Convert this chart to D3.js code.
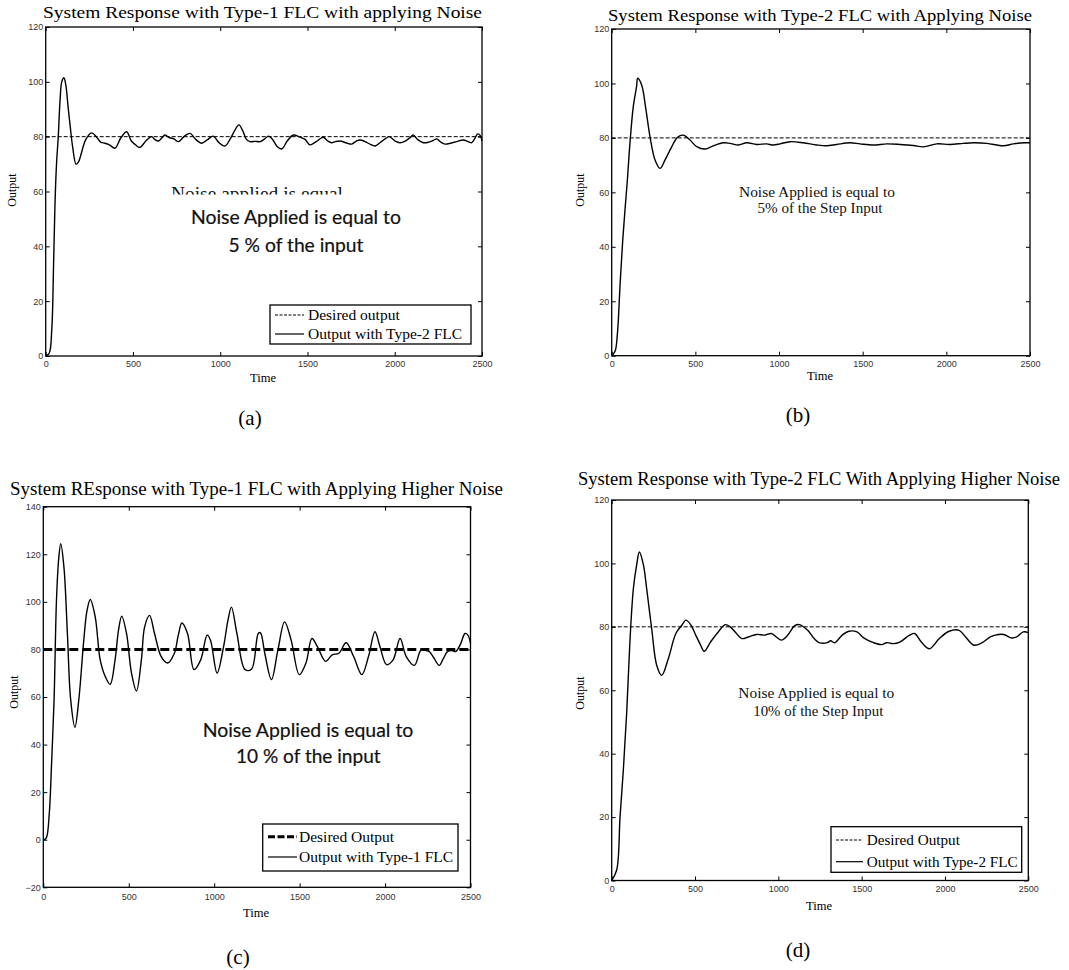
<!DOCTYPE html>
<html>
<head>
<meta charset="utf-8">
<script src="https://cdn.jsdelivr.net/npm/d3@7"></script>
<style>
  html, body { margin: 0; padding: 0; background: #fff; }
  svg { display: block; }
</style>
</head>
<body>
<svg id="fig" width="1069" height="970"></svg>
<script>
// ---------------- DATA ----------------
const xTicks = [0, 500, 1000, 1500, 2000, 2500];
const yTicks120 = [0, 20, 40, 60, 80, 100, 120];
const yTicks140 = [-20, 0, 20, 40, 60, 80, 100, 120, 140];
const desiredOutput = 80;

// (a) Type-1 FLC, 5% noise
const timeA = [0,20,35,45,53,62,72,82,92,104,115,128,140,155,174,188,
  200,230,263,290,315,340,365,397,430,464,
  490,515,540,575,607,625,645,665,684,710,
  735,760,795,827,860,894,925,960,990,1027,
  1060,1085,1107,1130,1150,1171,1200,1229,1255,1276,
  1300,1325,1352,1385,1419,1450,1486,1514,1550,1590,
  1615,1638,1660,1686,1720,1753,1780,1801,1830,1860,
  1887,1915,1945,1969,2000,2030,2060,2085,2106,2130,
  2164,2195,2220,2240,2265,2288,2320,2355,2393,2420,
  2441,2460,2475,2490,2500];
const outputA = [0,1,10,33,55,70,80,93,100,101.5,99,91,84,76,70,70.8,
  73,79,81.4,80,78,77.6,77,75.8,79.5,81.8,
  78.5,77,76.1,78.5,80,79,78.4,79.5,80.6,79.6,
  79.2,78.2,80.2,81.2,79,77.6,78.8,80.2,78,76.6,
  79.5,82.5,84.3,82,79,78.2,78.3,78.2,79.2,80.2,
  79,76.5,75.5,78.5,80.6,80,79,77,78.2,79.8,
  78.5,77.8,78.2,78.4,77.8,77.3,78.4,78.8,78.2,77.2,
  76.6,77.8,79.2,80,78.5,77.8,78.4,79.5,80.6,79,
  77.8,78,78.6,79.2,78,77.3,77.6,78.2,78.8,78.2,
  77.8,79.5,81,80.4,78.5];

// (b) Type-2 FLC, 5% noise
const timeB = [0,20,34,50,66,80,93,109,129,149,
  155,179,205,229,259,289,319,359,393,428,
  468,508,558,607,667,707,757,807,867,926,
  966,1006,1066,1145,1225,1285,1345,1424,1484,1564,
  1644,1723,1803,1863,1943,2022,2102,2162,2242,2341,
  2401,2470,2500];
const outputB = [0,1.6,8,26,42.5,54,64,78,91.5,99,
  101.9,99.4,90.2,80.4,71.9,68.8,71.9,76.8,80.2,81,
  79.2,76.8,75.9,77.1,78.2,78,77.4,78.2,77.6,77.8,
  77.4,77.8,78.6,78.2,77.4,77.1,77.6,78.2,77.8,77.4,
  77.8,77.6,77.2,76.7,77.8,77.6,78,78.2,78,77.1,
  77.8,78.2,78.2];

// (c) Type-1 FLC, 10% noise
const timeC = [0,6,19,35,49,63,77,90,102,121,
  141,160,185,208,237,256,275,304,333,362,
  391,420,440,459,487,516,545,574,593,622,
  651,690,728,767,790,811,844,882,921,959,
  978,1017,1055,1080,1101,1133,1181,1219,1258,1271,
  1296,1335,1373,1412,1450,1498,1537,1572,1604,1652,
  1691,1730,1772,1816,1864,1903,1941,1970,2009,2047,
  2088,2124,2172,2211,2240,2259,2285,2317,2340,2365,
  2390,2413,2440,2468,2485,2500];
const outputC = [0,0,1,11,33,58.6,100.5,118,124.4,114.4,
  86.7,59,47.3,59,84,96.4,101,93.6,75.6,68.7,
  65.3,75.6,88,94,86.7,70.1,62.5,75.6,89.5,94.3,
  86.7,77,74.3,78.4,86,91.1,86.7,71.5,75.6,86,
  84,70.1,81.2,92,97.8,86.7,71.5,71.8,86.7,87,
  78.4,67.3,79.8,91.6,84,69.4,74.3,84.6,81.2,75,
  77.7,78.4,82.8,77,69.4,77,87.4,81.2,73.6,75.6,
  84.6,77,73.3,79.8,79.5,79.1,76.5,73.3,76,79.1,
  79.5,79.1,82,86.7,86,82.6];

// (d) Type-2 FLC, 10% noise
const timeD = [0,30,50,70,90,110,130,150,166,190,
  210,240,270,300,340,385,421,445,474,504,
  534,555,593,632,682,711,741,781,820,869,
  919,958,988,1018,1057,1097,1126,1176,1215,1245,
  1294,1314,1338,1383,1423,1472,1512,1571,1620,1650,
  1690,1729,1788,1818,1858,1907,1966,2025,2085,2124,
  2174,2223,2272,2302,2351,2401,2430,2470,2500];
const outputD = [0,3.3,20,35,53,76,92,99.6,103.6,99.6,
  92,79.4,67.9,64.7,70,77.9,80.5,82.1,80.7,77.4,
  74.2,72.3,75.2,77.9,80.7,80,78.4,76.3,76.8,77.6,
  77.4,77.9,76.8,75.8,77.4,80.3,80.7,78.9,76.3,75,
  75,75.6,75,77.4,78.6,78.4,76.5,75,74.4,75,
  74.7,75.2,77.4,77.9,75.2,73.1,76.3,78.6,78.9,76.8,
  74.2,75,76.8,77.4,77.6,76.5,76.8,78.4,78.2];

// ---------------- DRAWING ----------------
const svg = d3.select("#fig");
const SERIF = "'Liberation Serif', 'Times New Roman', Times, serif";
const SANS = "'Liberation Sans', Arial, Helvetica, sans-serif";
const CAL = "Lato, 'Open Sans', sans-serif";

function panel(cfg) {
  const x = d3.scaleLinear().domain([0, 2500]).range([cfg.left, cfg.right]);
  const y = d3.scaleLinear().domain(cfg.yDomain).range([cfg.bottom, cfg.top]);
  const g = svg.append("g");

  const style = sel => {
    sel.select(".domain").remove();
    sel.selectAll(".tick line").attr("stroke", "#000").attr("stroke-width", 1);
    sel.selectAll(".tick text").attr("fill", "#333").attr("font-family", SANS).attr("font-size", 9);
  };
  g.append("g").attr("transform", `translate(0,${cfg.bottom})`)
    .call(d3.axisBottom(x).tickValues(xTicks).tickSize(-4).tickPadding(cfg.xPad || 5).tickFormat(d3.format("d")))
    .call(style);
  g.append("g").attr("transform", `translate(0,${cfg.top})`)
    .call(d3.axisTop(x).tickValues(xTicks).tickSize(-4).tickFormat(() => ""))
    .call(style);
  g.append("g").attr("transform", `translate(${cfg.left},0)`)
    .call(d3.axisLeft(y).tickValues(cfg.yTicks).tickSize(-4).tickPadding(2.5).tickFormat(d3.format("d")))
    .call(style);
  g.append("g").attr("transform", `translate(${cfg.right},0)`)
    .call(d3.axisRight(y).tickValues(cfg.yTicks).tickSize(-4).tickFormat(() => ""))
    .call(style);

  // desired output
  g.append("line")
    .attr("x1", x(0)).attr("x2", x(2500))
    .attr("y1", y(desiredOutput)).attr("y2", y(desiredOutput))
    .attr("stroke", "#000").attr("stroke-width", cfg.thickDash ? 3 : 1)
    .attr("stroke-dasharray", cfg.thickDash ? "9,4" : "4,2");

  // response curve
  const pts = d3.zip(cfg.time, cfg.output);
  g.append("path").datum(pts)
    .attr("fill", "none").attr("stroke", "#000").attr("stroke-width", 1.4)
    .attr("stroke-linejoin", "round")
    .attr("d", d3.line().x(d => x(d[0])).y(d => y(d[1])).curve(d3.curveCatmullRom.alpha(0.5)));

  // box
  g.append("rect")
    .attr("x", cfg.left).attr("y", cfg.top)
    .attr("width", cfg.right - cfg.left).attr("height", cfg.bottom - cfg.top)
    .attr("fill", "none").attr("stroke", "#000").attr("stroke-width", 1.3);

  // title
  g.append("text").text(cfg.title)
    .attr("x", cfg.titleX).attr("y", cfg.titleY)
    .attr("text-anchor", "middle").attr("font-family", SERIF).attr("font-size", cfg.titleSize)
    .attr("textLength", cfg.titleLen).attr("lengthAdjust", "spacingAndGlyphs");

  // axis labels
  g.append("text").text("Time")
    .attr("x", cfg.timeX).attr("y", cfg.timeY)
    .attr("text-anchor", "middle").attr("font-family", SERIF).attr("font-size", 12.5);
  g.append("text").text("Output")
    .attr("transform", `translate(${cfg.outX},${cfg.outY}) rotate(-90)`)
    .attr("text-anchor", "middle").attr("font-family", SERIF).attr("font-size", 12);

  // caption
  g.append("text").text(cfg.caption)
    .attr("x", cfg.capX).attr("y", cfg.capY)
    .attr("text-anchor", "middle").attr("font-family", SERIF).attr("font-size", 21);

  // annotation
  cfg.notes.forEach(n => {
    g.append("text").text(n.text)
      .attr("x", n.x).attr("y", n.y)
      .attr("text-anchor", "middle").attr("font-family", n.font).attr("font-size", n.size)
      .attr("fill", "#111")
      .attr("stroke", n.heavy ? "#111" : null).attr("stroke-width", n.heavy ? 0.2 : null)
      .attr("textLength", n.len).attr("lengthAdjust", "spacingAndGlyphs");
  });

  // legend
  if (cfg.legend) {
    const L = cfg.legend;
    g.append("rect").attr("x", L.x0).attr("y", L.y0)
      .attr("width", L.x1 - L.x0).attr("height", L.y1 - L.y0)
      .attr("fill", "#fff").attr("stroke", "#000").attr("stroke-width", 1.3);
    L.items.forEach((it, i) => {
      g.append("line").attr("x1", L.lx0).attr("x2", L.lx1)
        .attr("y1", it.y).attr("y2", it.y)
        .attr("stroke", "#000").attr("stroke-width", it.w)
        .attr("stroke-dasharray", it.dash || null);
      g.append("text").text(it.label)
        .attr("x", L.tx).attr("y", it.y + L.size * 0.33)
        .attr("font-family", SERIF).attr("font-size", L.size);
    });
  }
  return { x, y, g };
}

// (a)
panel({
  left: 45.7, right: 482, top: 27, bottom: 356, yDomain: [0, 120], yTicks: yTicks120,
  time: timeA, output: outputA, xPad: 5,
  title: "System Response with Type-1 FLC with applying Noise", titleX: 262.5, titleY: 17.5, titleSize: 17, titleLen: 439,
  timeX: 263, timeY: 382, outX: 16, outY: 190, caption: "(a)", capX: 250, capY: 425,
  notes: [
    { text: "Noise Applied is equal to", x: 296, y: 224, font: CAL, size: 18.5, len: 210, heavy: true },
    { text: "5 % of the input", x: 296, y: 251.5, font: CAL, size: 18.5, len: 135, heavy: true }
  ],
  legend: { x0: 270, x1: 471, y0: 305, y1: 344, lx0: 275, lx1: 304, tx: 308, size: 15.5,
    items: [ { y: 315, w: 1, dash: "3,1.5", label: "Desired output" },
             { y: 334, w: 1.2, label: "Output with Type-2 FLC" } ] }
});
// partially hidden overlapping text in (a)
svg.append("clipPath").attr("id", "clipA").append("rect")
  .attr("x", 150).attr("y", 180).attr("width", 220).attr("height", 14.5);
svg.append("text").text("Noise applied is equal")
  .attr("x", 257).attr("y", 199.5).attr("text-anchor", "middle")
  .attr("font-family", SERIF).attr("font-size", 19.4).attr("fill", "#111")
  .attr("textLength", 172).attr("lengthAdjust", "spacingAndGlyphs")
  .attr("clip-path", "url(#clipA)");

// (b)
panel({
  left: 611.7, right: 1030, top: 29, bottom: 355.7, yDomain: [0, 120], yTicks: yTicks120,
  time: timeB, output: outputB, xPad: 5,
  title: "System Response with Type-2 FLC with Applying Noise", titleX: 820, titleY: 21, titleSize: 17.5, titleLen: 424,
  timeX: 820, timeY: 380, outX: 584, outY: 190, caption: "(b)", capX: 798, capY: 422,
  notes: [
    { text: "Noise Applied is equal to", x: 817, y: 197.3, font: SERIF, size: 15.3, len: 156 },
    { text: "5% of the Step Input", x: 820, y: 213.3, font: SERIF, size: 15.3, len: 125 }
  ]
});

// (c)
panel({
  left: 43.3, right: 470.5, top: 506.7, bottom: 887.3, yDomain: [-20, 140], yTicks: yTicks140,
  time: timeC, output: outputC, thickDash: true, xPad: 6,
  title: "System REsponse with Type-1 FLC with Applying Higher Noise", titleX: 256.5, titleY: 495, titleSize: 19, titleLen: 493,
  timeX: 256, timeY: 917, outX: 18, outY: 692, caption: "(c)", capX: 238, capY: 964,
  notes: [
    { text: "Noise Applied is equal to", x: 308, y: 737.3, font: CAL, size: 19.5, len: 210.7, heavy: true },
    { text: "10 % of the input", x: 308.3, y: 762.7, font: CAL, size: 19.5, len: 144.7, heavy: true }
  ],
  legend: { x0: 262.7, x1: 458, y0: 824, y1: 871, lx0: 268, lx1: 297, tx: 299, size: 15.5,
    items: [ { y: 836.7, w: 3, dash: "7,2.5", label: "Desired Output" },
             { y: 857, w: 1.2, label: "Output with Type-1 FLC" } ] }
});

// (d)
panel({
  left: 611.7, right: 1028.3, top: 500, bottom: 880.5, yDomain: [0, 120], yTicks: yTicks120,
  time: timeD, output: outputD, xPad: 5,
  title: "System Response with Type-2 FLC With Applying Higher Noise", titleX: 819, titleY: 485, titleSize: 18.5, titleLen: 482,
  timeX: 819, timeY: 910, outX: 584, outY: 693, caption: "(d)", capX: 798, capY: 957,
  notes: [
    { text: "Noise Applied is equal to", x: 816.3, y: 698.3, font: SERIF, size: 15.3, len: 156 },
    { text: "10% of the Step Input", x: 818.3, y: 716, font: SERIF, size: 15.3, len: 130 }
  ],
  legend: { x0: 831, x1: 1021.7, y0: 826.7, y1: 872.3, lx0: 836, lx1: 863, tx: 866.7, size: 15.2,
    items: [ { y: 840, w: 1, dash: "3,1.5", label: "Desired Output" },
             { y: 861.7, w: 1.2, label: "Output with Type-2 FLC" } ] }
});
</script>
</body>
</html>
